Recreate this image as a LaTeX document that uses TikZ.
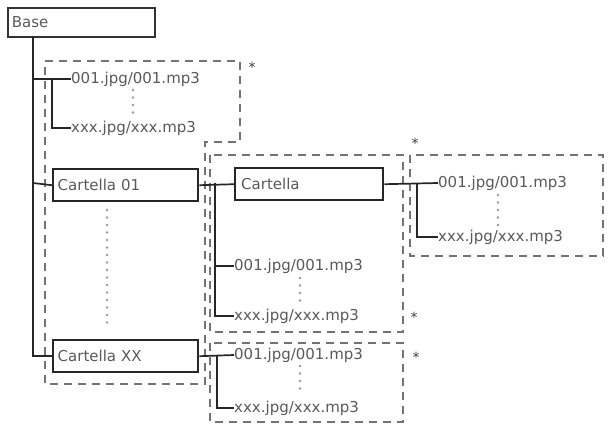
\documentclass[tikz,border=0pt]{standalone}
\usepackage{fontspec}
\setmainfont{DejaVu Sans}
\begin{document}
\begin{tikzpicture}[x=1pt,y=-1pt,
  txt/.style={anchor=west,inner sep=0pt,font=\fontsize{15}{15}\selectfont,text=black!65},
  folder/.style={draw=black!85,line width=2.4pt,anchor=north west,minimum height=32pt,minimum width=145pt,text width=136pt,inner xsep=4.5pt,align=left,font=\fontsize{15}{15}\selectfont,text=black!65},
  conn/.style={draw=black!85,line width=1.7pt},
  thickconn/.style={draw=black!85,line width=2.6pt},
  dashbox/.style={draw=black!55,line width=2.5pt,dash pattern=on 8pt off 6pt},
  dotline/.style={draw=black!40,line width=2.6pt,line cap=round,dash pattern=on 0pt off 7.5pt},
  star/.style={inner sep=0pt,font=\fontsize{14}{14}\selectfont,text=black!75}]
\useasboundingbox (0,0) rectangle (609,428);
% boxes
\node[draw=black!80,line width=1.7pt,anchor=north west,minimum height=29pt,minimum width=147pt,text width=139pt,inner xsep=4pt,align=left,font=\fontsize{15}{15}\selectfont,text=black!65] (base) at (7,7) {Base};
\node[folder] (c01) at (52,168) {Cartella 01};
\node[folder] (cxx) at (52,339) {Cartella XX};
\node[folder,minimum width=148pt] (cart) at (234,167) {Cartella};
% dashed groups
\draw[dashbox] (45,61) -- (240,61) -- (240,142) -- (205,142) -- (205,384) -- (45,384) -- cycle;
\draw[dashbox] (210,155) rectangle (403,332);
\draw[dashbox] (410,155) rectangle (603,256);
\draw[dashbox] (210,343) rectangle (403,422);
% texts
\node[txt] (f1) at (71,79) {001.jpg/001.mp3};
\node[txt] (x1) at (71,128) {xxx.jpg/xxx.mp3};
\node[txt] (f2) at (234,266) {001.jpg/001.mp3};
\node[txt] (x2) at (234,316) {xxx.jpg/xxx.mp3};
\node[txt] (f3) at (438,183) {001.jpg/001.mp3};
\node[txt] (x3) at (438,237) {xxx.jpg/xxx.mp3};
\node[txt] (f4) at (234,355) {001.jpg/001.mp3};
\node[txt] (x4) at (234,408) {xxx.jpg/xxx.mp3};
% stars
\node[star] (s1) at (252,67) {*};
\node[star] (s2) at (415,143) {*};
\node[star] (s3) at (414,317) {*};
\node[star] (s4) at (416,357) {*};
% junction coordinates
\coordinate (t0) at (33,36);
\coordinate (j1) at (33,79);
\coordinate (b1) at (52,79);
\coordinate (j2) at (33,183);
\coordinate (j3) at (215,183);
\coordinate (j4) at (417,183);
\coordinate (j5) at (217,355);
% connectors
\draw[conn] (t0) |- (cxx.west);
\draw[conn] (j1) -- (f1.west);
\draw[thickconn] (b1) |- (x1.west);
\draw[conn] (j2) -- (c01.west);
\draw[conn] (c01.east) -- (cart.west);
\draw[conn] (j3) |- (x2.west);
\draw[conn] (j3 |- f2.west) -- (f2.west);
\draw[conn] (cart.east) -- (f3.west);
\draw[conn] (j4) |- (x3.west);
\draw[conn] (cxx.east) -- (f4.west);
\draw[conn] (j5) |- (x4.west);
% dotted continuations
\draw[dotline] (133,90) -- (133,118);
\draw[dotline] (107,210) -- (107,327);
\draw[dotline] (300,278) -- (300,305);
\draw[dotline] (498,195) -- (498,227);
\draw[dotline] (300,366) -- (300,396);
\end{tikzpicture}
\end{document}
